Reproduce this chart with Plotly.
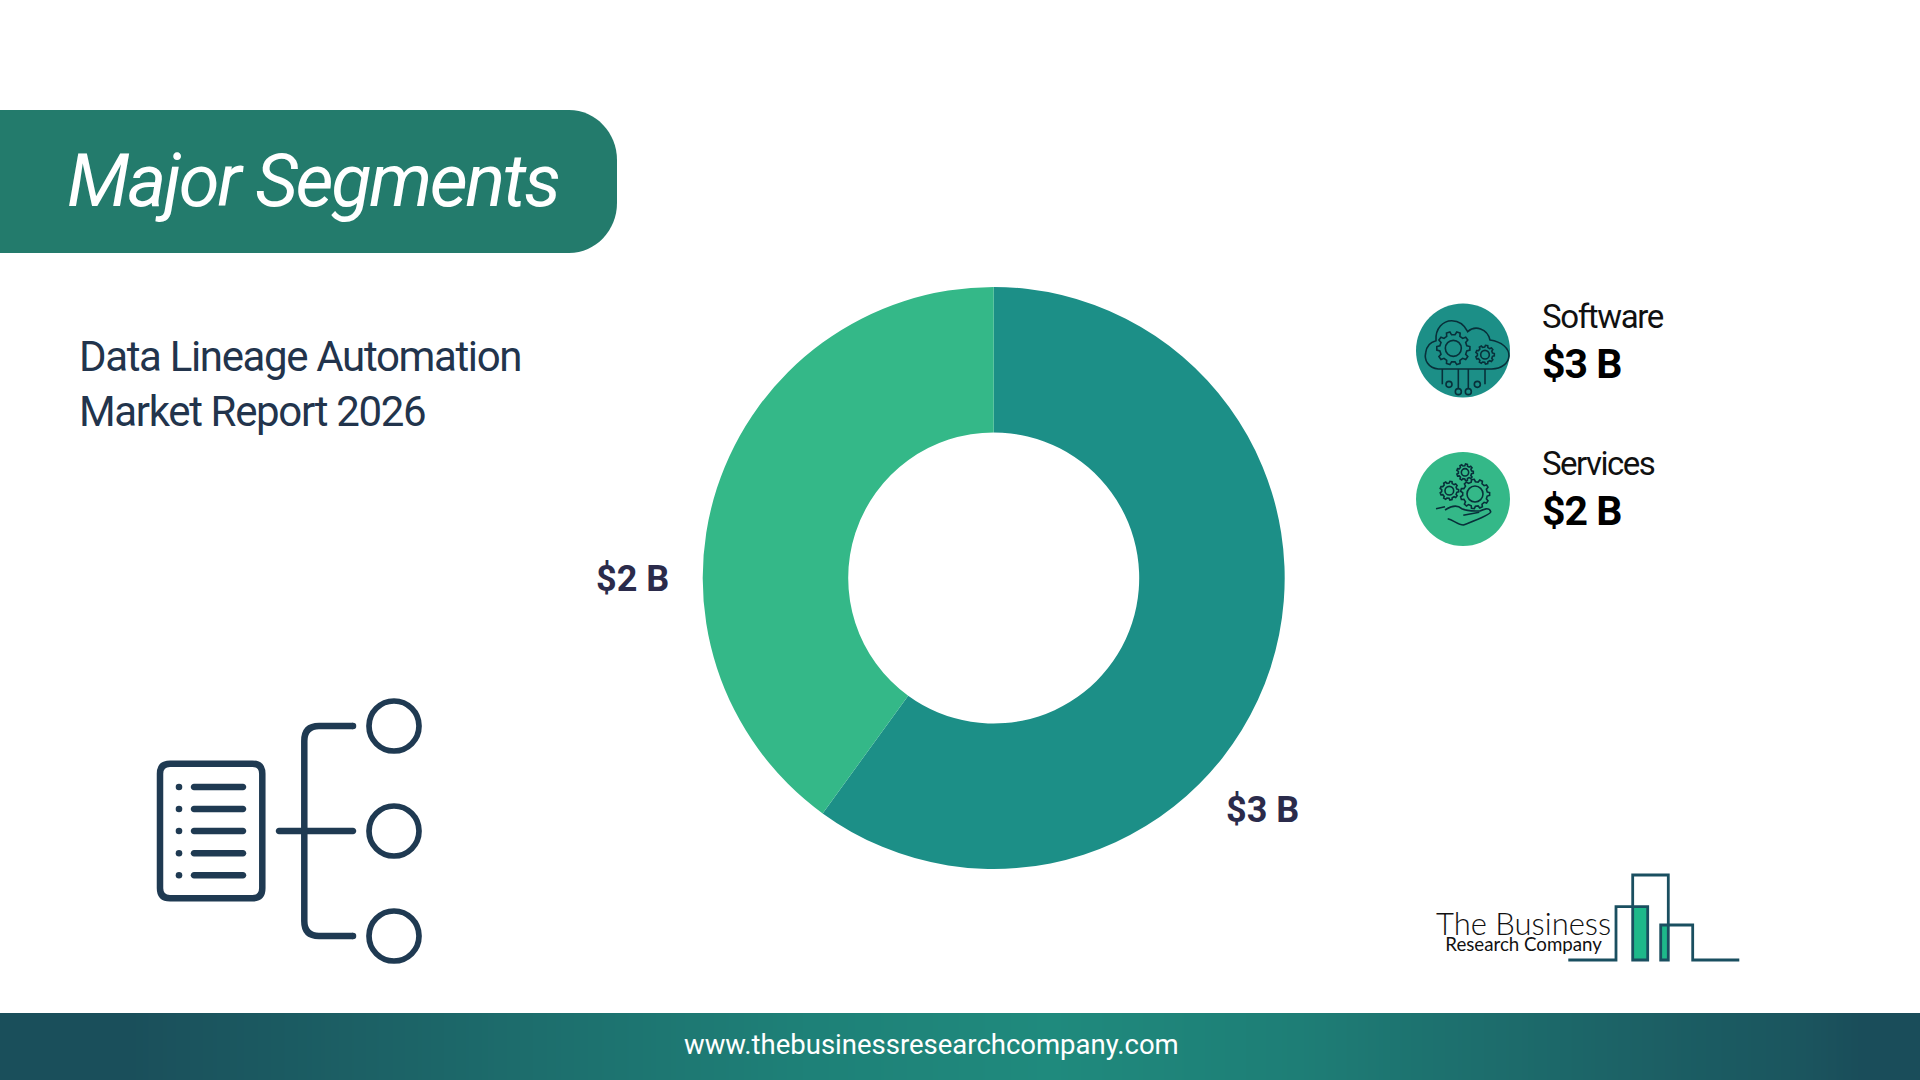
import math
import plotly.graph_objects as go

# ---- data ----
segments = ["Software", "Services"]
values = [3, 2]
colors = ["#1c8f87", "#34b888"]
title_text = "Major Segments"
subtitle_lines = ["Data Lineage Automation", "Market Report 2026"]
footer_text = "www.thebusinessresearchcompany.com"
logo_lines = ["The Business", "Research Company"]
value_labels = [f"${v} B" for v in values]

W, H = 1920, 1080
NAVY = "#1f3a52"
ICON = "#08303a"
IW = 1.6
shapes = []


def add_path(path, fill=None, color=None, width=0):
    shapes.append(dict(type="path", path=path, xref="x", yref="y", layer="above",
                       fillcolor=fill if fill else "rgba(0,0,0,0)",
                       line=dict(color=color if color else "rgba(0,0,0,0)", width=width)))


def add_circle(cx, cy, r, fill=None, color=None, width=0):
    shapes.append(dict(type="circle", x0=cx - r, x1=cx + r, y0=cy - r, y1=cy + r,
                       xref="x", yref="y", layer="above",
                       fillcolor=fill if fill else "rgba(0,0,0,0)",
                       line=dict(color=color if color else "rgba(0,0,0,0)", width=width)))


def capsule(x0, y, x1, w, fill):
    r = w / 2
    k = r * 0.55
    add_path(f"M{x0},{y-r} H{x1} C{x1+k},{y-r} {x1+r},{y-k} {x1+r},{y} "
             f"C{x1+r},{y+k} {x1+k},{y+r} {x1},{y+r} H{x0} "
             f"C{x0-k},{y+r} {x0-r},{y+k} {x0-r},{y} C{x0-r},{y-k} {x0-k},{y-r} {x0},{y-r} Z", fill=fill)


def gear(cx, cy, ro, ri, n):
    pts = []
    for i in range(n):
        a = 2 * math.pi * i / n
        s = 2 * math.pi / n
        for da, r in ((-0.30, ri), (-0.17, ro), (0.17, ro), (0.30, ri)):
            t = a + da * s
            pts.append((cx + r * math.cos(t), cy + r * math.sin(t)))
    return "M" + " L".join(f"{x:.1f},{y:.1f}" for x, y in pts) + " Z"


# header pill
add_path("M0,110 H569 C596,110 617,133 617,160 V203 C617,230 596,253 569,253 H0 Z", fill="#237b6c")

# left document icon
add_path("M170,763.7 H252.3 Q262.3,763.7 262.3,773.7 V888.3 Q262.3,898.3 252.3,898.3 H170 "
         "Q160,898.3 160,888.3 V773.7 Q160,763.7 170,763.7 Z", color=NAVY, width=6.5)
for y in (787, 809, 831, 853.3, 875.3):
    add_circle(179, y, 3.3, fill=NAVY)
    capsule(194, y, 243, 6.5, NAVY)
capsule(279, 831, 353, 6.5, NAVY)
add_path("M353,726 H319 Q304.3,726 304.3,741 V921 Q304.3,936 319,936 H353", color=NAVY, width=6.5)
for y in (726, 936):
    add_circle(353, y, 3.25, fill=NAVY)
for y in (726, 831, 936):
    add_circle(394, y, 25, color=NAVY, width=5.7)


# zoom-space helpers for the legend icons (crop origin 1400,280 at 3x)
def zx(v):
    return 1400 + v / 3


def zy(v):
    return 280 + v / 3


def zpath(cmds):
    out = []
    for cmd, pts in cmds:
        out.append(cmd + " ".join(f"{zx(a):.1f},{zy(b):.1f}" for a, b in pts))
    return " ".join(out)


def zgear(cx, cy, ro, ri, n, hole):
    add_path(gear(zx(cx), zy(cy), ro / 3, ri / 3, n), color=ICON, width=IW)
    add_circle(zx(cx), zy(cy), hole / 3, color=ICON, width=IW)


# software icon
add_circle(1463, 350.5, 47, fill=colors[0])
add_path(zpath([("M", [(115, 267)]),
                ("C", [(85, 265), (72, 240), (77, 218)]),
                ("C", [(80, 195), (95, 185), (108, 182)]),
                ("C", [(105, 145), (130, 122), (155, 122)]),
                ("C", [(180, 122), (195, 138), (203, 155)]),
                ("C", [(225, 135), (262, 145), (270, 180)]),
                ("C", [(305, 185), (328, 205), (327, 228)]),
                ("C", [(325, 250), (305, 267), (275, 267)]),
                ("L", [(115, 267)])]), color=ICON, width=IW)
zgear(160, 205, 50, 41, 10, 24)
zgear(255, 224, 28, 23, 9, 13)
add_path(zpath([("M", [(127, 267)]), ("L", [(127, 313), (138, 313)])]), color=ICON, width=IW)
add_path(zpath([("M", [(255, 267)]), ("L", [(255, 313), (241, 313)])]), color=ICON, width=IW)
add_path(zpath([("M", [(175, 267)]), ("L", [(175, 326)])]), color=ICON, width=IW)
add_path(zpath([("M", [(205, 267)]), ("L", [(205, 326)])]), color=ICON, width=IW)
for cx, cy in ((147, 313), (175, 335), (205, 335), (232, 313)):
    add_circle(zx(cx), zy(cy), 3, color=ICON, width=IW)

# services icon
add_circle(1463, 499, 47, fill=colors[1])
zgear(195, 577, 25, 20, 9, 11)
zgear(148, 632, 28, 23, 9, 13)
zgear(225, 642, 44, 37, 11, 24)
add_path(zpath([("M", [(108, 686)]), ("L", [(135, 680), (145, 720), (118, 727)]), ("L", [(108, 686)])]),
         color=ICON, width=IW)
add_path(zpath([("M", [(135, 690)]),
                ("C", [(150, 680), (170, 672), (185, 686)]),
                ("C", [(205, 695), (225, 692), (240, 693)]),
                ("C", [(250, 688), (268, 680), (272, 695)]),
                ("C", [(272, 705), (215, 725), (190, 735)]),
                ("C", [(175, 735), (160, 720), (143, 716)])]), color=ICON, width=IW)
add_path(zpath([("M", [(190, 706)]), ("L", [(238, 697)])]), color=ICON, width=IW)


# logo (crop origin 1420,860 at 3x)
def lx(v):
    return 1420 + v / 3


def ly(v):
    return 860 + v / 3


def lrect(x0, y0, x1, y1):
    return f"M{lx(x0):.1f},{ly(y0):.1f} H{lx(x1):.1f} V{ly(y1):.1f} H{lx(x0):.1f} Z"


add_path(lrect(640, 140, 683, 300), fill="#1eb88a")
add_path(lrect(722, 195, 745, 300), fill="#1eb88a")
LOGO = "#1a4f60"
pts = [(445, 300), (588, 300), (588, 140), (683, 140), (683, 300), (638, 300), (638, 45),
       (745, 45), (745, 300), (722, 300), (722, 195), (818, 195), (818, 300), (958, 300)]
add_path("M" + " L".join(f"{lx(a):.1f},{ly(b):.1f}" for a, b in pts), color=LOGO, width=2.8)

fig = go.Figure()

# footer band gradient
fig.add_trace(go.Heatmap(
    x=[0, 260, 520, 800, 1300, 1560, 1800, 1920],
    y=[1013, 1046, 1080],
    z=[[0.08, 0.38, 0.7, 1, 0.62, 0.3, 0.05],
       [0.08, 0.38, 0.7, 1, 0.62, 0.3, 0.05]],
    zmin=0, zmax=1, zsmooth="best", showscale=False, hoverinfo="skip",
    colorscale=[[0, "#1a4a58"], [1, "#1f8a7d"]],
))

# donut
cx, cy, R = 993.7, 578, 291
fig.add_trace(go.Pie(
    labels=segments, values=values, hole=0.5, sort=False, direction="clockwise",
    rotation=0, marker=dict(colors=colors, line=dict(width=0)), textinfo="none",
    showlegend=False, hoverinfo="label+value",
    domain=dict(x=[(cx - R) / W, (cx + R) / W], y=[1 - (cy + R) / H, 1 - (cy - R) / H]),
))


def ann(x, y, text, size, color, family="Roboto", weight=None, style=None, anchor="left"):
    return dict(x=x, y=y, xref="x", yref="y", text=text, showarrow=False, xanchor=anchor, yanchor="middle",
                align=anchor, font=dict(family=family, size=size, color=color, weight=weight, style=style))


annotations = [
    ann(65, 180, title_text, 74, "#ffffff", weight=400, style="italic"),
    ann(77, 356, subtitle_lines[0], 42, "#22344c", weight=400),
    ann(77, 411, subtitle_lines[1], 42, "#22344c", weight=400),
    ann(632, 579, value_labels[1], 36, "#2b2b4b", weight=700, anchor="center"),
    ann(1262, 810, value_labels[0], 36, "#2b2b4b", weight=700, anchor="center"),
    ann(1540, 316, segments[0], 33, "#111111"),
    ann(1540, 364, value_labels[0], 41, "#000000", weight=700),
    ann(1540, 463.5, segments[1], 33, "#111111"),
    ann(1540, 511, value_labels[1], 41, "#000000", weight=700),
    ann(931, 1044, footer_text, 27.5, "#ffffff", anchor="center"),
    ann(1523, 929,
        f'<span style="font-size:31px;font-weight:300">{logo_lines[0]}</span><br>'
        f'<span style="font-size:18.7px">{logo_lines[1]}</span>',
        12.3, "#111111", family="Lato", anchor="center"),
]

# tight tracking of the Roboto headings, as in the reference
tracking = {0: -2.35, 1: -1.35, 2: -1.35, 5: -1.35, 6: -1.0, 7: -1.5, 8: -1.0}
css = "".join(f'.annotation[data-index="{i}"] text{{letter-spacing:{v}px}}' for i, v in tracking.items())
post = ("document.body.style.margin='0';"
        "var s=document.createElement('style');s.textContent='" + css + "';document.head.appendChild(s);")

fig.update_layout(
    width=W, height=H, margin=dict(l=0, r=0, t=0, b=0),
    paper_bgcolor="#ffffff", plot_bgcolor="#ffffff", showlegend=False,
    xaxis=dict(range=[0, W], visible=False, fixedrange=True),
    yaxis=dict(range=[H, 0], visible=False, fixedrange=True),
    shapes=shapes, annotations=annotations,
)

fig.write_html("out.html", config=dict(displayModeBar=False), post_script=post)
